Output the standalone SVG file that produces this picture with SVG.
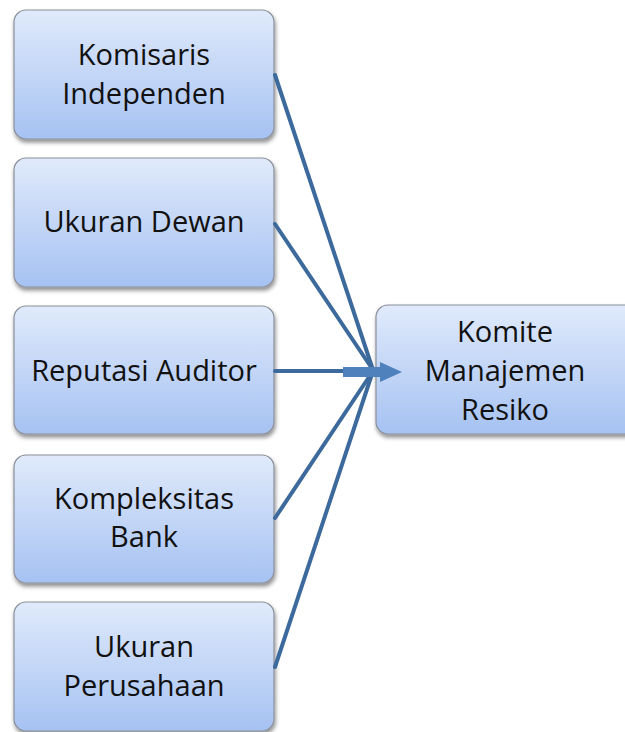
<svg xmlns="http://www.w3.org/2000/svg" width="625" height="732" viewBox="0 0 625 732">
<defs>
<linearGradient id="g" x1="0" y1="0" x2="0" y2="1">
<stop offset="0" stop-color="#e0eafb"/>
<stop offset="1" stop-color="#a6c2f2"/>
</linearGradient>
<filter id="sh" x="-10%" y="-10%" width="130%" height="130%">
<feGaussianBlur in="SourceAlpha" stdDeviation="2"/>
<feOffset dx="1" dy="3" result="b"/>
<feComponentTransfer><feFuncA type="linear" slope="0.45"/></feComponentTransfer>
<feMerge><feMergeNode/><feMergeNode in="SourceGraphic"/></feMerge>
</filter>
</defs>
<style>
.box{fill:url(#g);stroke:#8a8f99;stroke-width:1.2;filter:url(#sh)}
.t{font-family:"Open Sans","Liberation Sans",sans-serif;font-size:29px;fill:#111;text-anchor:middle}
.c{stroke:#3d6a9c;stroke-width:4;fill:none;stroke-linecap:round}
</style>
<g id="n1"><rect class="box" x="14" y="10" width="260" height="129" rx="12"/><text class="t" x="144" y="65">Komisaris</text><text class="t" x="144" y="104">Independen</text></g>
<g id="n2"><rect class="box" x="14" y="158" width="260" height="129" rx="12"/><text class="t" x="144" y="232">Ukuran Dewan</text></g>
<g id="n3"><rect class="box" x="14" y="306" width="260" height="128" rx="12"/><text class="t" x="144" y="381">Reputasi Auditor</text></g>
<g id="n4"><rect class="box" x="14" y="455" width="260" height="128" rx="12"/><text class="t" x="144" y="509">Kompleksitas</text><text class="t" x="144" y="547">Bank</text></g>
<g id="n5"><rect class="box" x="14" y="602" width="260" height="129" rx="12"/><text class="t" x="144" y="657">Ukuran</text><text class="t" x="144" y="696">Perusahaan</text></g>
<g id="n6"><rect class="box" x="376" y="305" width="262" height="129" rx="12"/><text class="t" x="505" y="342">Komite</text><text class="t" x="505" y="381">Manajemen</text><text class="t" x="505" y="420">Resiko</text></g>
<g id="connectors">
<line class="c" x1="275" y1="75" x2="373" y2="370"/>
<line class="c" x1="275" y1="224" x2="373" y2="370"/>
<line class="c" x1="275" y1="371" x2="345" y2="371"/>
<line class="c" x1="275" y1="518" x2="373" y2="371"/>
<line class="c" x1="275" y1="667" x2="373" y2="371"/>
<polygon points="343,367 380,367 380,362 402,372 380,382 380,377 343,377" fill="#4f81bd"/>
</g>
</svg>
